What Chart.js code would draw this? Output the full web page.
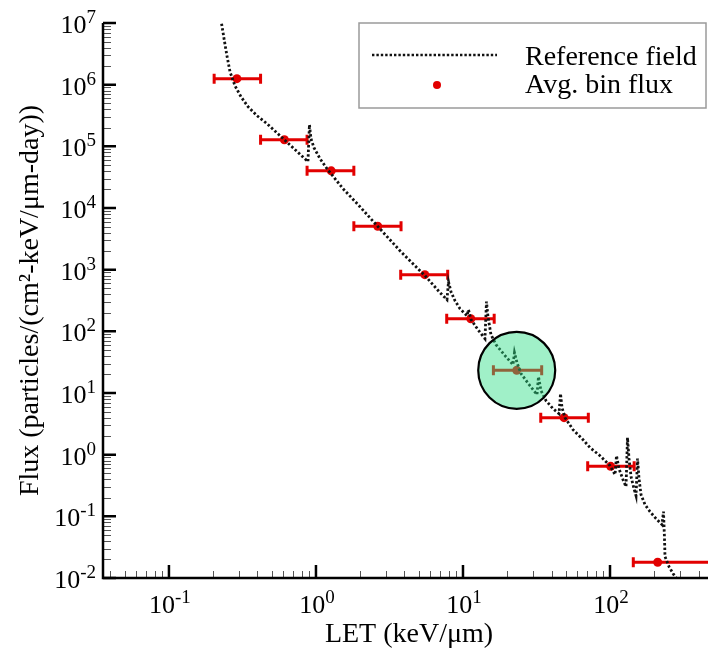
<!DOCTYPE html>
<html>
<head>
<meta charset="utf-8">
<title>LET flux spectrum</title>
<script src="https://cdn.jsdelivr.net/npm/chart.js@4.4.0/dist/chart.umd.min.js"></script>
<style>
    html, body { margin: 0; padding: 0; background: #fff; }
    #wrap { width: 708px; height: 649px; }
</style>
</head>
<body>
<div id="wrap"><canvas id="fluxChart" width="708" height="649"></canvas></div>
<script>
// Reference field (dotted curve), LET in keV/um and flux
const refLet = [0.228, 0.237, 0.248, 0.260, 0.281, 0.309, 0.345, 0.397, 0.464, 0.569,
    0.709, 0.882, 0.903, 0.925, 0.969, 1.065, 1.188, 1.527, 1.992, 2.641,
    3.728, 5.513, 6.98, 7.784, 7.97, 8.28, 8.82, 9.54, 10.65, 10.90,
    11.34, 12.65, 14.11, 14.45, 14.79, 15.50, 16.77, 19.31, 21.88, 22.40,
    23.30, 24.81, 28.56, 31.87, 32.63, 33.93, 36.70, 40.95, 45.0, 46.06,
    47.16, 49.42, 56.02, 65.52, 73.1, 85.5, 100, 108.2, 110.7, 115.1,
    122.6, 128.5, 131.5, 134.7, 139.0, 145.6, 150.3, 153.9, 157.5, 162.5,
    173.0, 187.1, 205.6, 225.8, 231.1, 234.8, 236.6, 252.0, 268.3, 290.1];
const refFlux = [9.75e6, 5.57e6, 2.95e6, 1.63e6, 9.62e5, 6.38e5, 4.40e5, 3.14e5, 2.33e5, 1.49e5,
    9.16e4, 5.64e4, 2.24e5, 1.33e5, 9.51e4, 6.31e4, 4.34e4, 2.06e4, 1.05e4, 4.98e3,
    2.03e3, 800, 424, 326, 639, 440, 314, 233, 179, 224,
    155, 106, 76.0, 303, 173, 88.3, 60.8, 40.3, 28.8, 45.1,
    31.0, 20.6, 13.1, 9.40, 18.4, 10.9, 7.51, 5.57, 4.62, 9.75,
    5.78, 3.98, 2.54, 1.75, 1.30, 0.963, 0.663, 0.474, 0.963, 0.593,
    0.393, 0.303, 1.89, 0.861, 0.440, 0.281, 0.216, 0.861, 0.408, 0.225,
    0.155, 0.119, 0.0917, 0.0733, 0.119, 0.0434, 0.0222, 0.0153, 0.0118, 0.0091];

// Average flux per LET bin, with the bin edges
const binLet = [0.29, 0.61, 1.27, 2.63, 5.5, 11.3, 23.2, 48.7, 101, 211];
const binLo = [0.203, 0.42, 0.87, 1.81, 3.77, 7.75, 16.1, 33.8, 70.5, 144];
const binHi = [0.42, 0.87, 1.81, 3.79, 7.87, 16.3, 34.3, 71.2, 146, 500];
const binFlux = [1.25e6, 1.28e5, 4.0e4, 5.05e3, 830, 160, 23.3, 3.98, 0.646, 0.018];

// Bin marked with the green circle
const highlightBin = 6;

// Axis decades (exponents of 10)
const xDecades = [-2, -1, 0, 1, 2];
const yDecades = [-2, -1, 0, 1, 2, 3, 4, 5, 6, 7];
const xMin = 0.0356, xMax = 464;
const yMin = 0.01, yMax = 1e7;

const RED = 'rgb(226, 0, 0)';
const FONT = '"Liberation Serif", "Times New Roman", serif';

// Draw "10" with a raised exponent; align is 'right' or 'center'
function drawPower(ctx, exp, ax, baseline, align) {
    const expText = exp < 0 ? '-' + (-exp) : String(exp);
    ctx.font = '26px ' + FONT;
    const wBase = ctx.measureText('10').width;
    ctx.font = '19px ' + FONT;
    const wExp = ctx.measureText(expText).width;
    const total = wBase + wExp;
    const left = align === 'right' ? ax - total : ax - total / 2;
    ctx.textAlign = 'left';
    ctx.textBaseline = 'alphabetic';
    ctx.fillStyle = '#000';
    ctx.font = '26px ' + FONT;
    ctx.fillText('10', left, baseline);
    ctx.font = '19px ' + FONT;
    ctx.fillText(expText, left + wBase, baseline - 10);
}

// Horizontal error bars, under the markers
const errorBarPlugin = {
    id: 'errorBars',
    beforeDatasetsDraw(chart) {
        const { ctx, chartArea: a, scales: { x, y } } = chart;
        ctx.save();
        ctx.beginPath();
        ctx.rect(a.left, a.top - 10, a.right - a.left, a.bottom - a.top + 10);
        ctx.clip();
        ctx.strokeStyle = RED;
        ctx.lineWidth = 3;
        for (let i = 0; i < binLet.length; i++) {
            const py = y.getPixelForValue(binFlux[i]);
            const x0 = x.getPixelForValue(binLo[i]);
            const x1 = x.getPixelForValue(binHi[i]);
            ctx.beginPath();
            ctx.moveTo(x0, py);
            ctx.lineTo(x1, py);
            ctx.moveTo(x0, py - 5);
            ctx.lineTo(x0, py + 5);
            ctx.moveTo(x1, py - 5);
            ctx.lineTo(x1, py + 5);
            ctx.stroke();
        }
        ctx.restore();
    }
};

// Green circle around the highlighted bin
const circlePlugin = {
    id: 'highlight',
    afterDatasetsDraw(chart) {
        const { ctx, scales: { x, y } } = chart;
        const cx = x.getPixelForValue(binLet[highlightBin]);
        const cy = y.getPixelForValue(binFlux[highlightBin]);
        ctx.save();
        ctx.beginPath();
        ctx.arc(cx, cy, 38.5, 0, Math.PI * 2);
        ctx.fillStyle = 'rgba(44, 222, 133, 0.45)';
        ctx.fill();
        ctx.lineWidth = 2.2;
        ctx.strokeStyle = '#000';
        ctx.stroke();
        ctx.restore();
    }
};

// Axes with inward ticks, tick labels and titles
const axesPlugin = {
    id: 'axes',
    afterDraw(chart) {
        const { ctx, chartArea: a, scales: { x, y } } = chart;
        ctx.save();

        // minor ticks
        ctx.strokeStyle = '#555';
        ctx.lineWidth = 1;
        ctx.beginPath();
        yDecades.forEach(d => {
            for (let m = 2; m <= 9; m++) {
                const v = m * Math.pow(10, d);
                if (v <= yMin || v >= yMax) continue;
                const py = Math.round(y.getPixelForValue(v)) + 0.5;
                ctx.moveTo(a.left, py);
                ctx.lineTo(a.left + 8, py);
            }
        });
        xDecades.forEach(d => {
            for (let m = 2; m <= 9; m++) {
                const v = m * Math.pow(10, d);
                if (v <= xMin || v >= xMax) continue;
                const px = Math.round(x.getPixelForValue(v)) + 0.5;
                ctx.moveTo(px, a.bottom);
                ctx.lineTo(px, a.bottom - 7);
            }
        });
        ctx.stroke();

        // major ticks
        ctx.strokeStyle = '#000';
        ctx.lineWidth = 2.5;
        ctx.beginPath();
        yDecades.forEach(d => {
            const py = y.getPixelForValue(Math.pow(10, d));
            ctx.moveTo(a.left, py);
            ctx.lineTo(a.left + 13, py);
        });
        xDecades.forEach(d => {
            const v = Math.pow(10, d);
            if (v <= xMin || v >= xMax) return;
            const px = x.getPixelForValue(v);
            ctx.moveTo(px, a.bottom);
            ctx.lineTo(px, a.bottom - 13);
        });
        ctx.stroke();

        // axis lines
        ctx.lineWidth = 2.5;
        ctx.beginPath();
        ctx.moveTo(a.left, a.top);
        ctx.lineTo(a.left, a.bottom);
        ctx.lineTo(a.right, a.bottom);
        ctx.stroke();

        // tick labels
        yDecades.forEach(d => {
            const py = y.getPixelForValue(Math.pow(10, d));
            drawPower(ctx, d, a.left - 7, py + 10, 'right');
        });
        xDecades.forEach(d => {
            const v = Math.pow(10, d);
            if (v <= xMin || v >= xMax) return;
            drawPower(ctx, d, x.getPixelForValue(v) + 1, a.bottom + 35, 'center');
        });

        // titles
        ctx.fillStyle = '#000';
        ctx.font = '28px ' + FONT;
        ctx.textAlign = 'center';
        ctx.textBaseline = 'alphabetic';
        ctx.fillText('LET (keV/\u03bcm)', 409, 642);
        ctx.translate(38, (a.top + a.bottom) / 2);
        ctx.rotate(-Math.PI / 2);
        ctx.fillText('Flux (particles/(cm\u00b2-keV/\u03bcm-day))', 0, 0);
        ctx.restore();
    }
};

// Boxed legend in the upper right
const legendPlugin = {
    id: 'boxLegend',
    afterDraw(chart) {
        const { ctx } = chart;
        ctx.save();
        ctx.fillStyle = '#fff';
        ctx.fillRect(359, 23, 347, 85);
        ctx.strokeStyle = '#9a9a9a';
        ctx.lineWidth = 1.5;
        ctx.strokeRect(359, 23, 347, 85);

        ctx.strokeStyle = '#111';
        ctx.lineWidth = 2.6;
        ctx.setLineDash([2.4, 2]);
        ctx.beginPath();
        ctx.moveTo(372, 55);
        ctx.lineTo(497, 55);
        ctx.stroke();
        ctx.setLineDash([]);

        ctx.fillStyle = RED;
        ctx.beginPath();
        ctx.arc(437, 85, 4, 0, Math.PI * 2);
        ctx.fill();

        ctx.fillStyle = '#000';
        ctx.font = '28px ' + FONT;
        ctx.textAlign = 'left';
        ctx.textBaseline = 'alphabetic';
        ctx.fillText('Reference field', 525, 65);
        ctx.fillText('Avg. bin flux', 525, 93);
        ctx.restore();
    }
};

function initChart() {
    const ctx = document.getElementById('fluxChart').getContext('2d');
    return new Chart(ctx, {
        type: 'scatter',
        data: {
            datasets: [
                {
                    label: 'Reference field',
                    data: refLet.map((v, i) => ({ x: v, y: refFlux[i] })),
                    showLine: true,
                    borderColor: '#111',
                    borderWidth: 2.8,
                    borderDash: [2.4, 2.2],
                    pointRadius: 0,
                    tension: 0
                },
                {
                    label: 'Avg. bin flux',
                    data: binLet.map((v, i) => ({ x: v, y: binFlux[i] })),
                    showLine: false,
                    backgroundColor: RED,
                    borderWidth: 0,
                    pointRadius: 4.5
                }
            ]
        },
        options: {
            responsive: false,
            animation: false,
            layout: { autoPadding: false, padding: { left: 103, top: 23, right: 0, bottom: 71 } },
            plugins: {
                legend: { display: false },
                tooltip: { enabled: false }
            },
            scales: {
                x: { type: 'logarithmic', min: xMin, max: xMax, display: false },
                y: { type: 'logarithmic', min: yMin, max: yMax, display: false }
            }
        },
        plugins: [errorBarPlugin, circlePlugin, axesPlugin, legendPlugin]
    });
}

initChart();
</script>
</body>
</html>
